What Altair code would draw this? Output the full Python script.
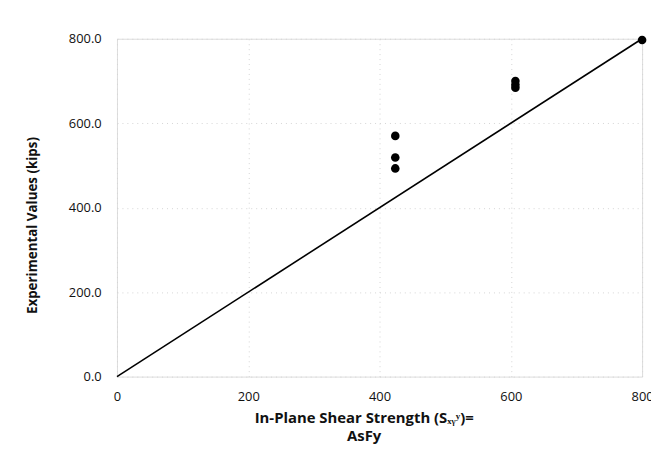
import altair as alt
import pandas as pd

# Experimental data points
shear_strength = [424, 424, 424, 607, 607, 607, 800]
experimental = [570, 519, 493, 700, 691, 684, 797]

# 1:1 reference line
line_x = [0, 800]
line_y = [0, 800]

x_ticks = [0, 200, 400, 600, 800]
y_ticks = [0, 200, 400, 600, 800]

pts = pd.DataFrame({"x": shear_strength, "y": experimental})
ref = pd.DataFrame({"x": line_x, "y": line_y})

FONT = "Open Sans"

xscale = alt.Scale(domain=[0, 800], nice=False)
yscale = alt.Scale(domain=[0, 800], nice=False)

xaxis = alt.Axis(
    values=x_ticks, format="d", grid=True, gridColor="#d4d4d4", gridDash=[1, 4],
    domain=False, ticks=False, labelFont=FONT, labelFontSize=13, labelColor="#111",
    labelPadding=14, labelFlush=False,
    title=["In-Plane Shear Strength (Sₓᵧʸ)=", "AsFy"], titleFont=FONT,
    titleFontSize=15, titleFontWeight="bold", titleColor="#111",
    titleX=249, titleY=34, titleBaseline="top", titleLineHeight=19,
)
yaxis = alt.Axis(
    values=y_ticks, format=".1f", grid=True, gridColor="#d4d4d4", gridDash=[1, 4],
    domain=False, ticks=False, labelFont=FONT, labelFontSize=13, labelColor="#111",
    labelPadding=16,
    title="Experimental Values (kips)", titleFont=FONT, titleFontSize=13.5,
    titleFontWeight="bold", titleColor="#111", titleX=-85, titleY=188,
    titleAlign="center", titleBaseline="middle",
)

line = alt.Chart(ref).mark_line(color="#000", strokeWidth=1.6).encode(
    x=alt.X("x:Q", scale=xscale, axis=xaxis),
    y=alt.Y("y:Q", scale=yscale, axis=yaxis),
)
points = alt.Chart(pts).mark_circle(color="#000", opacity=1, size=75).encode(
    x=alt.X("x:Q", scale=xscale),
    y=alt.Y("y:Q", scale=yscale),
)

chart = (line + points).properties(
    width=530, height=341,
    autosize=alt.AutoSizeParams(type="none"),
    padding={"left": 110, "top": 29, "right": 9, "bottom": 70},
).configure_view(stroke=None).configure(background="white")

chart.save("out.html", embed_options={"renderer": "svg", "actions": False})
